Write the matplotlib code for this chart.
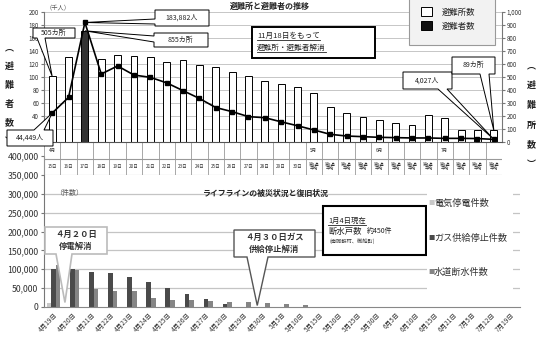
import numpy as np
import matplotlib
matplotlib.use("Agg")
import matplotlib.pyplot as plt
from matplotlib.patches import Polygon, Rectangle
from matplotlib.lines import Line2D
from matplotlib.transforms import Affine2D, IdentityTransform

plt.rcParams['font.family'] = ['Noto Sans CJK JP', 'DejaVu Sans']

# ---------------------------------------------------------------------------
# data: 避難所と避難者の推移 (top)
# ---------------------------------------------------------------------------
days_top = ['15日', '16日', '17日', '18日', '19日', '20日', '21日', '22日',
            '23日', '24日', '25日', '26日', '27日', '28日', '29日', '30日'] + \
           ['第1週\n平均', '第2週\n平均', '第3週\n平均', '第4週\n平均'] * 3
months_top = ['4月'] + [''] * 15 + ['5月', '', '', ''] + ['6月', '', '', ''] + ['7月', '', '', '']
shelters = [505, 656, 855, 636, 669, 662, 656, 618, 631, 592, 579, 541, 508, 470,
            444, 421, 375, 268, 222, 196, 170, 145, 127, 209, 183, 93, 93, 89]
evacuees = [44.449, 68.7, 183.882, 104.6, 117, 103, 99.5, 91, 79, 67, 53, 46.7, 39, 37.4,
            31, 25, 18.5, 11.8, 9.2, 8.2, 7.2, 6.7, 6.2, 6.2, 5.6, 5.6, 5.3, 4.027]  # 千人

# ---------------------------------------------------------------------------
# data: ライフラインの被災状況と復旧状況 (bottom)
# ---------------------------------------------------------------------------
days_bot = ['4月19日', '4月20日', '4月21日', '4月22日', '4月23日', '4月24日', '4月25日',
            '4月26日', '4月27日', '4月28日', '4月29日', '4月30日', '5月5日', '5月10日',
            '5月15日', '5月20日', '5月25日', '5月30日', '6月5日', '6月10日', '6月15日',
            '6月21日', '7月5日', '7月12日', '7月19日']
power = [11000] + [0] * 24
gas = [100000, 100000, 92000, 89000, 79000, 66000, 51000, 35000, 20000, 8000] + [0] * 15
water = [112000, 99000, 47000, 43000, 42000, 23000, 18500, 18000, 16000, 14000, 14000,
         11500, 9000, 4400, 1200, 800, 700, 600, 600, 550, 500, 500, 450, 450, 450]

W, H = 536, 342
fig = plt.figure(figsize=(W / 100, H / 100), dpi=100)
T = Affine2D().scale(1 / W, -1 / H).translate(0, 1) + fig.transFigure  # image pixels


def rect(x0, y0, x1, y1):
    return [x0 / W, 1 - y1 / H, (x1 - x0) / W, (y1 - y0) / H]


def px(ax, x, y):
    d = ax.transData.transform((x, y))
    return d[0], H - d[1]


def callout(box, side, base, tip, text, fs=5, ec='black', lw=0.7, weight='normal', color='#222'):
    x0, y0, x1, y1 = box
    b0, b1 = base
    if side == 'bottom':
        v = [(x0, y0), (x1, y0), (x1, y1), (b1, y1), tip, (b0, y1), (x0, y1)]
    elif side == 'top':
        v = [(x0, y0), (b0, y0), tip, (b1, y0), (x1, y0), (x1, y1), (x0, y1)]
    else:  # left
        v = [(x0, y0), (x1, y0), (x1, y1), (x0, y1), (x0, b1), tip, (x0, b0)]
    fig.add_artist(Polygon(v, closed=True, transform=T, fc='white', ec=ec, lw=lw, zorder=5))
    fig.text((x0 + x1) / 2, (y0 + y1) / 2, text, transform=T, ha='center', va='center',
             fontsize=fs, fontweight=weight, color=color, zorder=6, linespacing=1.3)


# ---------------------------------------------------------------------------
# bottom chart
# ---------------------------------------------------------------------------
ax_b = fig.add_axes(rect(44, 156, 520, 307))
xb = np.arange(len(days_bot))
bw = 0.24
ax_b.bar(xb - bw, power, bw, color='#c8c8c8', zorder=2)
ax_b.bar(xb, gas, bw, color='#4a4a4a', zorder=2)
ax_b.bar(xb + bw, water, bw, color='#858585', zorder=2)
ax_b.set_xlim(-0.5, len(days_bot) - 0.5)
ax_b.set_ylim(0, 400000)
ax_b.set_yticks(range(0, 400001, 50000))
ax_b.set_yticklabels([f'{v:,}' for v in range(0, 400001, 50000)])
for v in range(50000, 300001, 50000):
    ax_b.axhline(v, color='#c4c4c4', lw=0.9, zorder=0)
ax_b.set_xticks(xb)
ax_b.set_xticklabels(days_bot, rotation=45, ha='right', rotation_mode='anchor')
ax_b.tick_params(axis='x', length=0, labelsize=4.7, pad=3, labelcolor='#333')
ax_b.tick_params(axis='y', length=2, labelsize=6.3, pad=2, labelcolor='#333', color='#777')
for s in ['top', 'right']:
    ax_b.spines[s].set_visible(False)
ax_b.spines['left'].set_color('#777')
ax_b.spines['bottom'].set_color('#888')
ax_b.patch.set_visible(False)

# ---------------------------------------------------------------------------
# category table under the top chart
# ---------------------------------------------------------------------------
ax_tbl = fig.add_axes(rect(44, 142, 502, 175))
n = len(days_top)
ax_tbl.set_xlim(-0.5, n - 0.5)
ax_tbl.set_ylim(0, 2)
ax_tbl.axis('off')
ax_tbl.vlines(np.arange(-0.5, n), 0, 2, color='#999', lw=0.6)
ax_tbl.hlines([0, 1], -0.5, n - 0.5, color='#999', lw=0.8)
for i, (m, d) in enumerate(zip(months_top, days_top)):
    if m:
        ax_tbl.text(i, 1.5, m, ha='center', va='center', fontsize=3.3, color='#333')
    ax_tbl.text(i, 0.5, d, ha='center', va='center', fontsize=3.0 if '\n' in d else 3.3,
                color='#333', linespacing=1.0)

# ---------------------------------------------------------------------------
# top chart
# ---------------------------------------------------------------------------
ax_t = fig.add_axes(rect(44, 12, 502, 142))
ax_r = ax_t.twinx()
ax_t.set_zorder(3)
ax_r.set_zorder(2)
ax_t.patch.set_visible(False)
ax_r.patch.set_visible(False)

xt = np.arange(n)
peak = int(np.argmax(evacuees))
bar_colors = ['white'] * n
bar_colors[peak] = '#333333'
ax_r.bar(xt, shelters, 0.42, color=bar_colors, edgecolor='black', lw=0.7, zorder=2)
ax_r.set_ylim(0, 1000)
ax_r.set_yticks(range(0, 1001, 100))
ax_r.set_yticklabels([f'{v:,}' for v in range(0, 1001, 100)])
ax_r.grid(axis='y', color='#bdbdbd', lw=0.6)
ax_r.set_axisbelow(True)

ax_t.plot(xt, evacuees, color='black', lw=1.2, marker='s', ms=3, zorder=3)
ax_t.set_ylim(0, 200)
# 0 and 20 sit behind the 44,449人 callout in the original
ax_t.set_yticks(range(40, 201, 20))
ax_t.set_xlim(-0.5, n - 0.5)
ax_t.set_xticks([])

for a in (ax_t, ax_r):
    a.tick_params(axis='y', labelsize=4.5, length=2, pad=1.5, labelcolor='#333', color='#777')
    a.spines['top'].set_visible(False)
ax_t.spines['right'].set_visible(False)
ax_r.spines['left'].set_visible(False)
ax_r.spines['bottom'].set_visible(False)
ax_t.spines['left'].set_color('#777')
ax_r.spines['right'].set_color('#777')
ax_t.spines['bottom'].set_color('#555')

# titles / axis labels
fig.text(270, 6, '避難所と避難者の推移', transform=T, ha='center', va='center',
         fontsize=5.8, fontweight='bold', color='#222')
fig.text(46, 7, '（千人）', transform=T, ha='left', va='center', fontsize=4.5, color='#555')
for k, ch in enumerate('︵避難者数︶'):
    fig.text(9, 48 + k * 18.7, ch, transform=T, ha='center', va='center',
             fontsize=6.5, fontweight='bold', color='#222')
for k, ch in enumerate('︵避難所数︶'):
    fig.text(531, 66 + k * 19.7, ch, transform=T, ha='center', va='center',
             fontsize=6.5, fontweight='bold', color='#222')

# legend box (top)
fig.add_artist(Rectangle((409, -2), 86, 47, transform=T, fc='#f2f2f2', ec='#999', lw=0.8, zorder=4))
fig.add_artist(Rectangle((421, 7), 11, 9, transform=T, fc='white', ec='black', lw=0.7, zorder=5))
fig.add_artist(Rectangle((421, 21), 11, 9, transform=T, fc='#111', ec='black', lw=0.7, zorder=5))
fig.text(442, 12, '避難所数', transform=T, va='center', fontsize=6, color='#222', zorder=6)
fig.text(442, 26, '避難者数', transform=T, va='center', fontsize=6, color='#222', zorder=6)

# note box
fig.add_artist(Rectangle((252, 27), 123, 31, transform=T, fc='white', ec='black', lw=1.4, zorder=4))
note1 = fig.text(257, 36, '11月18日をもって', transform=T, va='center', fontsize=5.5,
                 color='#222', zorder=6)
note2 = fig.text(257, 48, '避難所・避難者解消', transform=T, va='center', fontsize=5.5,
                 color='#222', zorder=6)

# callouts (top)
callout((155, 10, 209, 26), 'left', (19, 24), px(ax_t, peak, evacuees[peak]),
        f'{round(evacuees[peak] * 1000):,}人')
callout((154, 33, 208, 47), 'left', (36, 42), px(ax_r, peak, shelters[peak]),
        f'{shelters[peak]}カ所')
callout((33, 28, 75, 38), 'bottom', (37, 45), px(ax_r, 0, shelters[0]), f'{shelters[0]}カ所')
callout((7, 130, 53, 146), 'top', (34, 44), px(ax_t, 0, evacuees[0]),
        f'{round(evacuees[0] * 1000):,}人')
callout((403, 72, 452, 89), 'bottom', (438, 447), px(ax_t, n - 1, evacuees[-1]),
        f'{round(evacuees[-1] * 1000):,}人')
callout((452, 57, 495, 74), 'bottom', (480, 489), px(ax_r, n - 1, shelters[-1]),
        f'{shelters[-1]}カ所')

# ---------------------------------------------------------------------------
# bottom annotations
# ---------------------------------------------------------------------------
fig.text(266, 193, 'ライフラインの被災状況と復旧状況', transform=T, ha='center', va='center',
         fontsize=5.7, fontweight='bold', color='#222')
fig.text(55, 193, '（件数）', transform=T, ha='left', va='center', fontsize=5, color='#555')

callout((45, 227, 107, 254), 'bottom', (56, 72), px(ax_b, 0.6, 12000), '４月２０日\n停電解消',
        fs=6, ec='#bbbbbb', lw=1.2, weight='bold', color='#333')
callout((234, 230, 315, 257), 'bottom', (247, 268), px(ax_b, 10.7, 4000),
        '４月３０日ガス\n供給停止解消', fs=6, ec='#555', lw=1.0, weight='bold', color='#333')

fig.add_artist(Rectangle((323, 206), 103, 49, transform=T, fc='white', ec='black', lw=1.5, zorder=4))
note3 = fig.text(328, 221, '1月4日現在', transform=T, va='center', fontsize=5.3, color='#222', zorder=6)
fig.text(328, 231, '断水戸数', transform=T, va='center', fontsize=6.0, color='#222', zorder=6)
fig.text(367, 231, '約450件', transform=T, va='center', fontsize=5.0, color='#222', zorder=6)
fig.text(329, 241, '(南阿蘇村、御船町)', transform=T, va='center', fontsize=3.8, color='#333', zorder=6)

# legend area (bottom)
fig.add_artist(Rectangle((427, 184), 86, 116, transform=T, fc='white', ec='none', zorder=4))
leg_items = [('電気停電件数', '#c8c8c8', 203), ('ガス供給停止件数', '#4a4a4a', 238),
             ('水道断水件数', '#858585', 272)]
for lab, c, yy in leg_items:
    fig.text(428, yy, '■', transform=T, va='center', fontsize=4.5, color=c, zorder=6)
    fig.text(434, yy, lab, transform=T, va='center', fontsize=6.6, color='#333', zorder=6)

# underlines
fig.canvas.draw()
rend = fig.canvas.get_renderer()
for t in (note1, note2, note3):
    bb = t.get_window_extent(rend)
    fig.add_artist(Line2D([bb.x0, bb.x1], [bb.y0 + 0.5, bb.y0 + 0.5], transform=IdentityTransform(),
                          color='#222', lw=0.6, zorder=6))

fig.savefig('out.png', dpi=100)
